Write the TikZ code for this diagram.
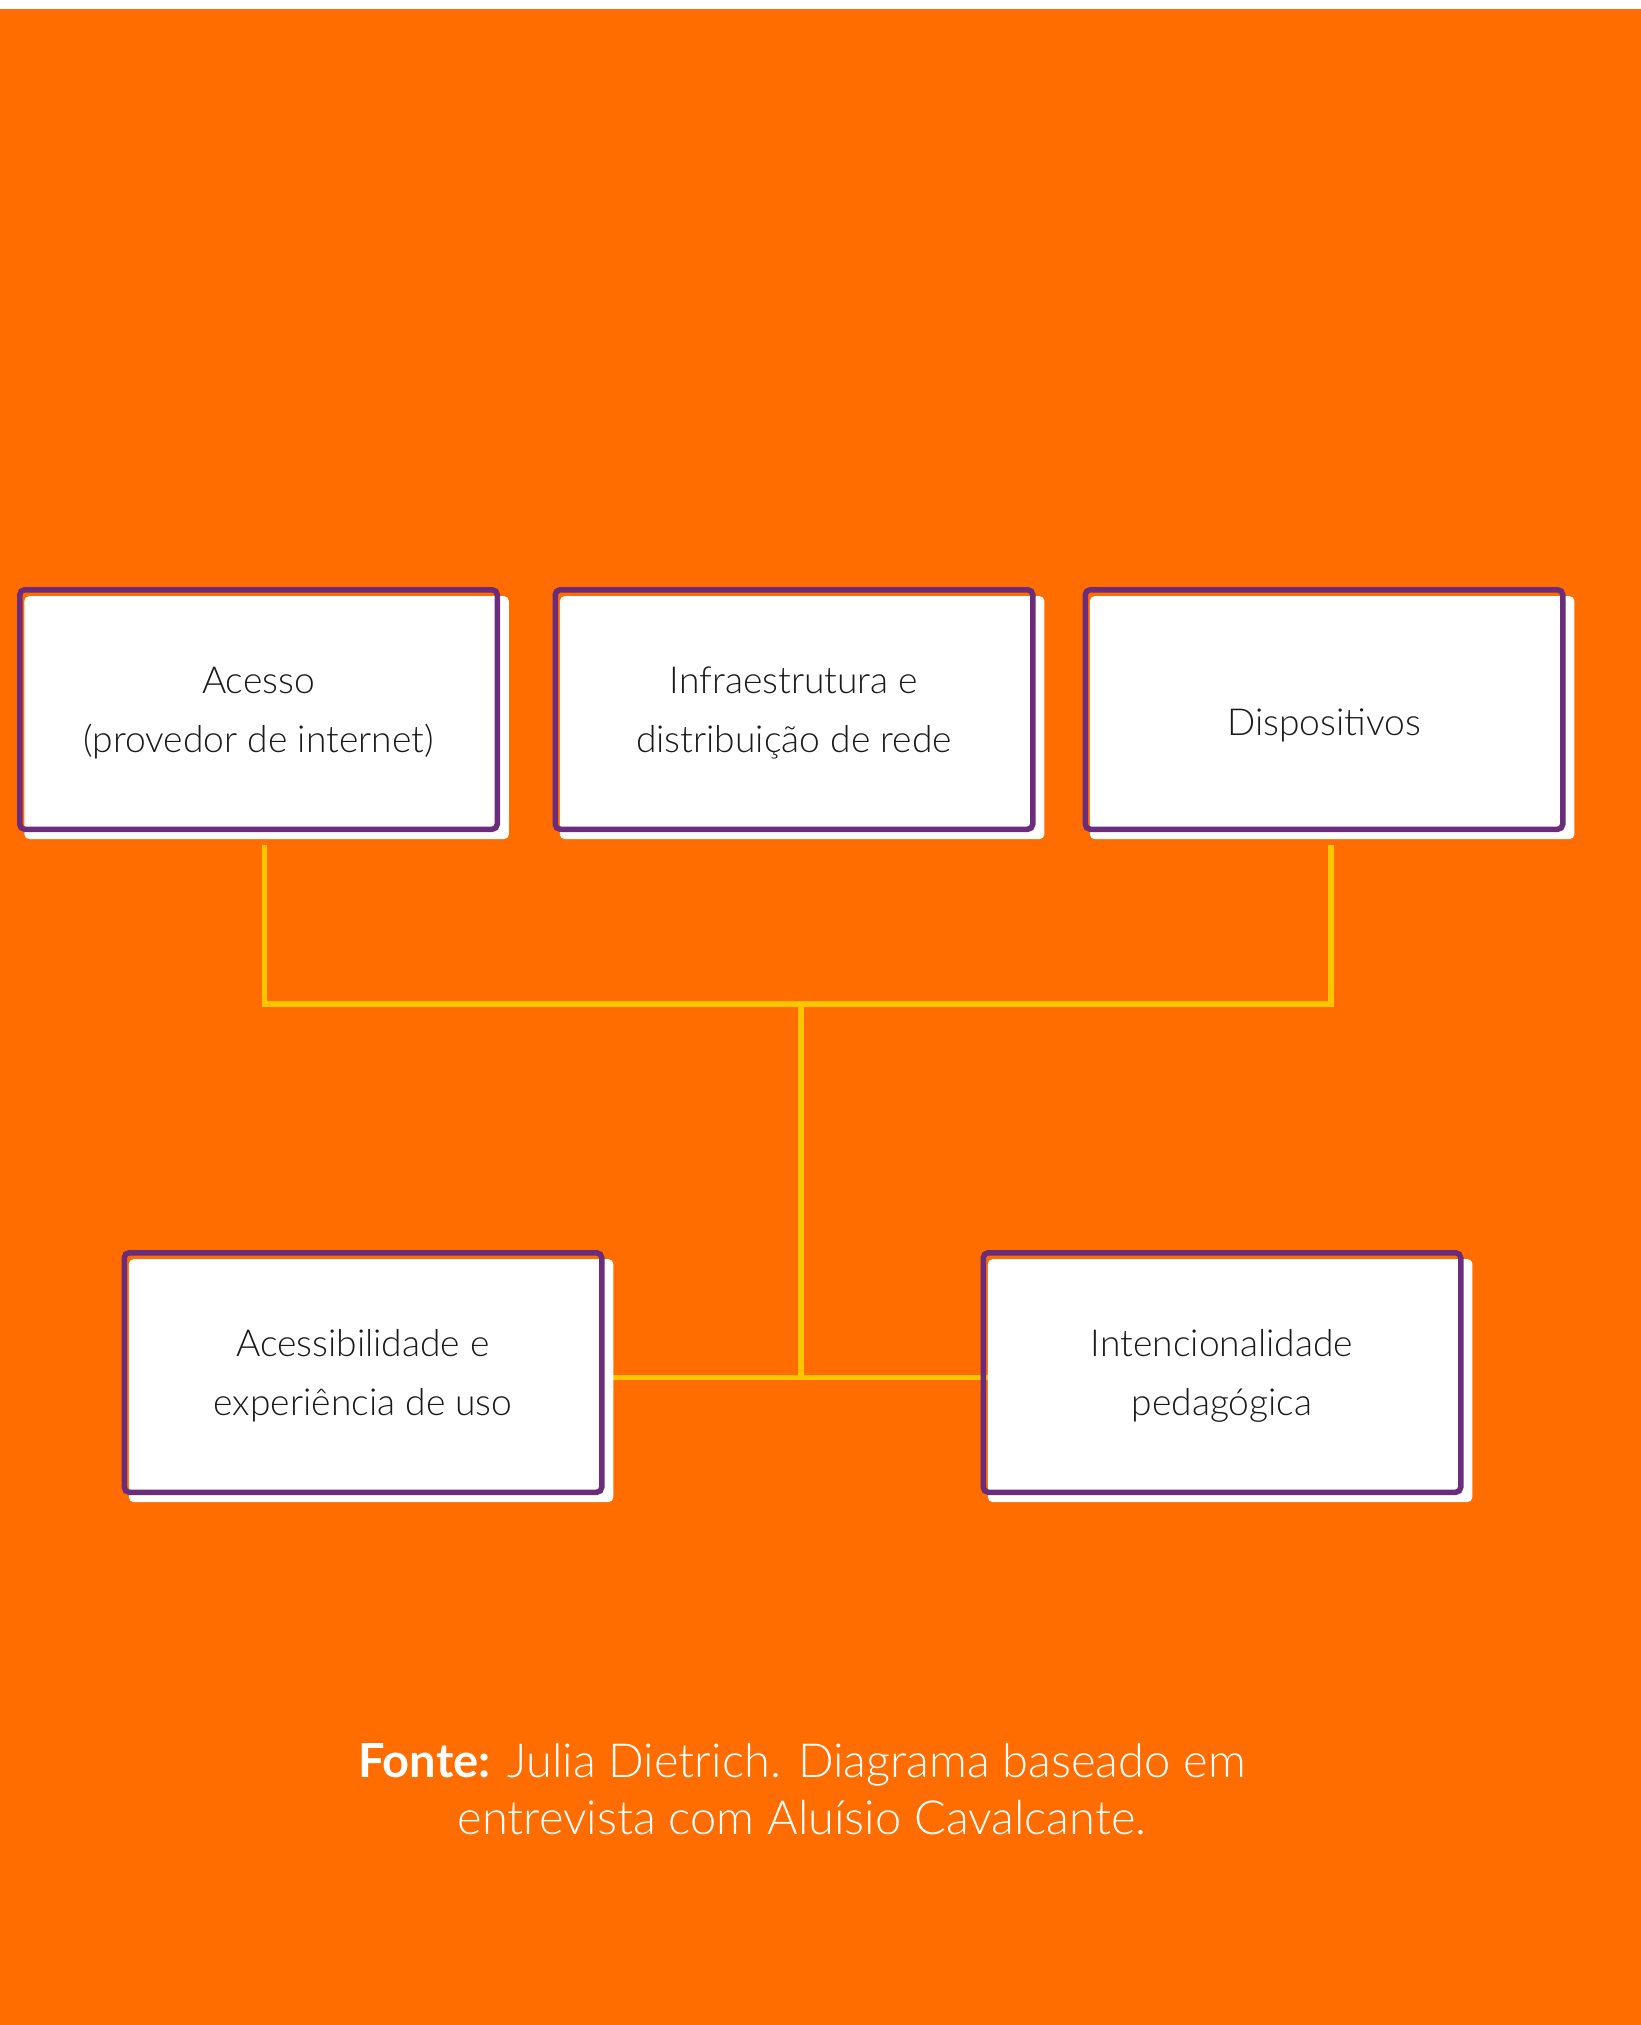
\documentclass[tikz,border=0pt]{standalone}
\usepackage{fontspec}
\setmainfont{Lato}[UprightFont={* Light}, BoldFont={* Bold}]
\usetikzlibrary{backgrounds,shadows}
\definecolor{bgorange}{HTML}{FF6C00}
\definecolor{frame}{HTML}{6B2D7B}
\definecolor{link}{HTML}{FFC600}
\definecolor{ink}{HTML}{1A1A1A}
\begin{document}
\begin{tikzpicture}[x=0.5pt,y=-0.5pt,
  card/.style={draw=frame, line width=2.75pt, rounded corners=2.5pt,
    minimum width=238.75pt, minimum height=119.75pt, align=center,
    text=ink, font=\fontsize{18.6}{29.5}\selectfont,
    general shadow={fill=white, shadow scale=1.015,
      shadow xshift=4pt, shadow yshift=-4pt}},
  wire/.style={draw=link, line width=2.75pt}]
  \useasboundingbox (0,0) rectangle (1641,2025);
  \begin{scope}[on background layer]
    \fill[white] (0,0) rectangle (1641,2025);
    \fill[bgorange] (0,9) rectangle (1641,2025);
  \end{scope}

  % upper row of cards
  \node[card] (b1) at (258.5,709.5) {\rule{0pt}{17pt}Acesso\\(provedor de internet)};
  \node[card] (b2) at (794,709.5) {\rule{0pt}{17pt}Infraestrutura e\\distribuição de rede};
  \node[card] (b3) at (1324,709.5) {\rule{0pt}{29pt}Dispositivos};
  % lower row of cards
  \node[card] (b4) at (363,1372.5) {\rule{0pt}{17pt}Acessibilidade e\\experiência de uso};
  \node[card] (b5) at (1222,1372.5) {\rule{0pt}{17pt}Intencionalidade\\pedagógica};

  % junction of the tree
  \coordinate (j) at (801,1004);
  \coordinate (k) at (801,1377.5);

  \begin{scope}[on background layer]
    \draw[wire] ([xshift=3pt,yshift=-6.4pt]b1.south) |- (j);
    \draw[wire] ([xshift=3.5pt,yshift=-6.4pt]b3.south) |- (j);
    \draw[wire] (j) -- (k);
    \draw[wire] (b4.center |- k) -- (b5.center |- k);
  \end{scope}

  \node[text=white, align=center, font=\fontsize{23.5}{28.5}\selectfont] (src) at (802,1789)
    {\textbf{Fonte:} Julia Dietrich. Diagrama baseado em\\entrevista com Aluísio Cavalcante.};
\end{tikzpicture}
\end{document}
